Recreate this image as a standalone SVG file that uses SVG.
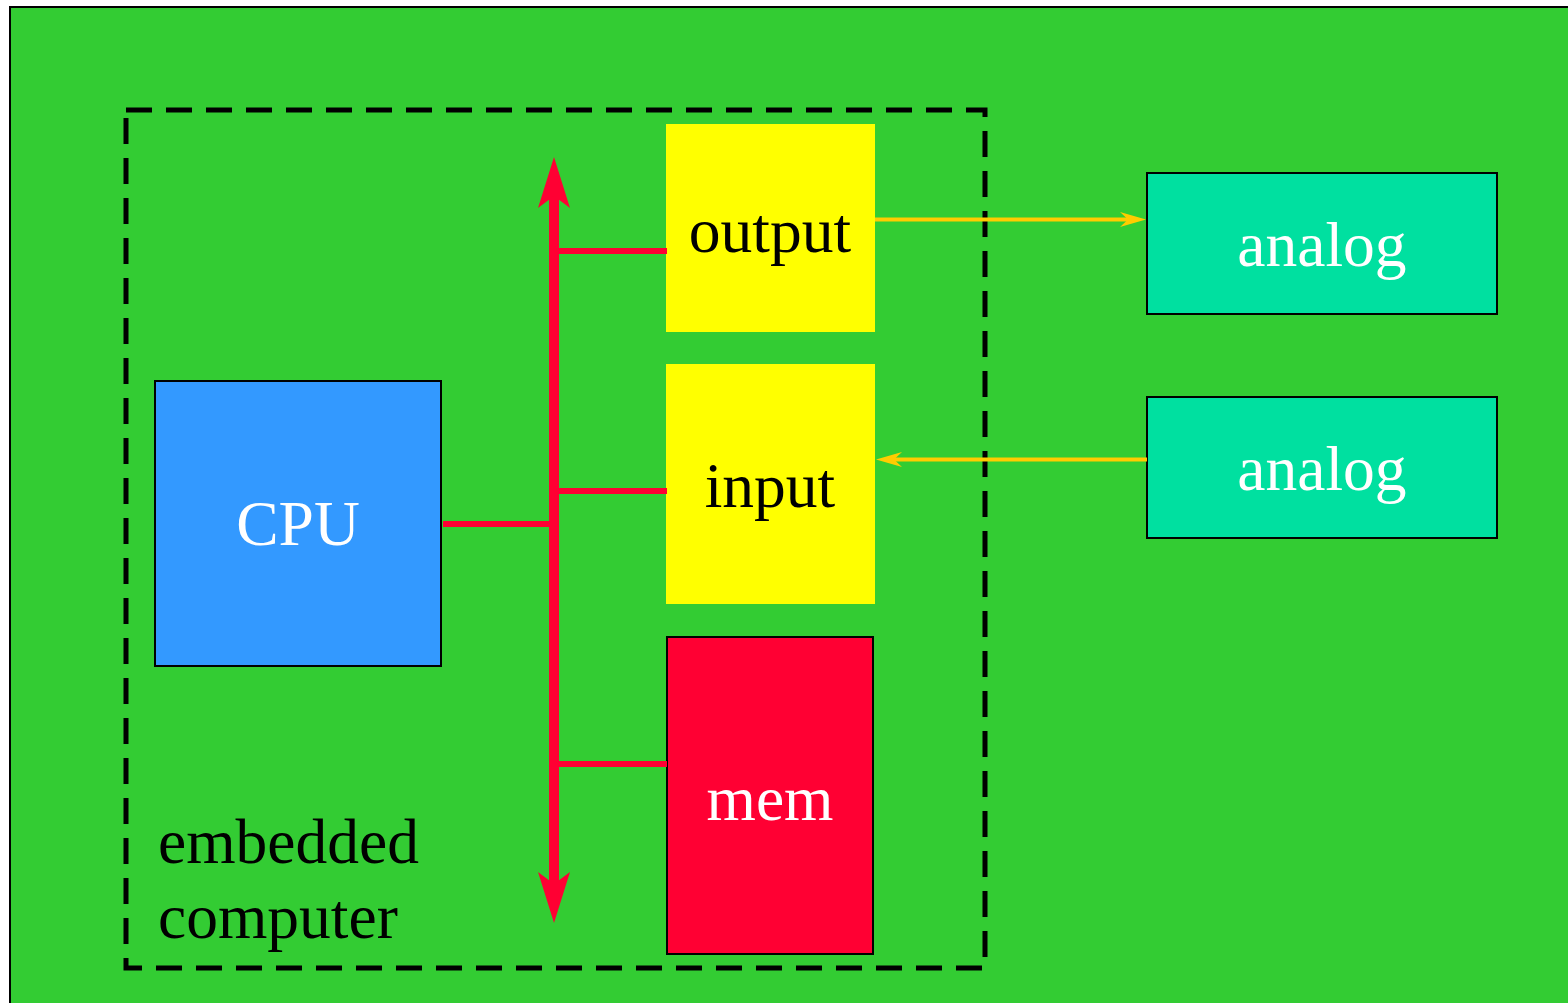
<svg xmlns="http://www.w3.org/2000/svg" width="1568" height="1003" viewBox="0 0 1568 1003">
<style>
.t{font-family:"Liberation Serif","Times New Roman",serif;font-size:63.5px;text-anchor:middle}
.w{fill:#ffffff}
.k{fill:#000000}
.box{stroke:#000;stroke-width:2}
.bus{stroke:#ff0033;fill:none}
.sig{stroke:#ffcc00;stroke-width:4;fill:none}
.sh{fill:#ffcc00}
</style>
<rect x="0" y="0" width="1568" height="1003" fill="#ffffff"/>
<rect id="frame" x="10" y="7" width="1600" height="1050" fill="#33cc33" stroke="#000" stroke-width="2"/>
<g id="embedded">
<rect x="126" y="110" width="859" height="858" fill="none" stroke="#000" stroke-width="5" stroke-dasharray="26 14"/>
<text class="t k" x="158" y="863" style="text-anchor:start">embedded</text>
<text class="t k" x="158" y="938" style="text-anchor:start">computer</text>
</g>
<g id="cpu">
<rect class="box" x="155" y="381" width="286" height="285" fill="#3399ff"/>
<text class="t w" x="298" y="545">CPU</text>
</g>
<g id="output">
<rect x="666" y="124" width="209" height="208" fill="#ffff00"/>
<text class="t k" x="770" y="252">output</text>
</g>
<g id="input">
<rect x="666" y="364" width="209" height="240" fill="#ffff00"/>
<text class="t k" x="770" y="507">input</text>
</g>
<g id="mem">
<rect class="box" x="667" y="637" width="206" height="317" fill="#ff0033"/>
<text class="t w" x="770" y="820">mem</text>
</g>
<g id="analog1">
<rect class="box" x="1147" y="173" width="350" height="141" fill="#00e0a0"/>
<text class="t w" x="1322" y="266">analog</text>
</g>
<g id="analog2">
<rect class="box" x="1147" y="397" width="350" height="141" fill="#00e0a0"/>
<text class="t w" x="1322" y="490">analog</text>
</g>
<g id="connectors">
<line class="bus" x1="554" y1="190" x2="554" y2="890" stroke-width="10"/>
<path d="M554,157 L570,208 L554,196 L538,208 Z" fill="#ff0033"/>
<path d="M554,923 L570,872 L554,884 L538,872 Z" fill="#ff0033"/>
<line class="bus" x1="443" y1="524" x2="554" y2="524" stroke-width="6"/>
<line class="bus" x1="554" y1="251" x2="667" y2="251" stroke-width="6"/>
<line class="bus" x1="554" y1="491" x2="667" y2="491" stroke-width="6"/>
<line class="bus" x1="554" y1="764" x2="667" y2="764" stroke-width="6"/>
<line class="sig" x1="875" y1="219.5" x2="1135" y2="219.5"/>
<path class="sh" d="M1146,219.5 L1120,212 L1128,219.5 L1120,227 Z"/>
<line class="sig" x1="1147" y1="459.5" x2="887" y2="459.5"/>
<path class="sh" d="M876,459.5 L902,452 L894,459.5 L902,467 Z"/>
</g>
</svg>
